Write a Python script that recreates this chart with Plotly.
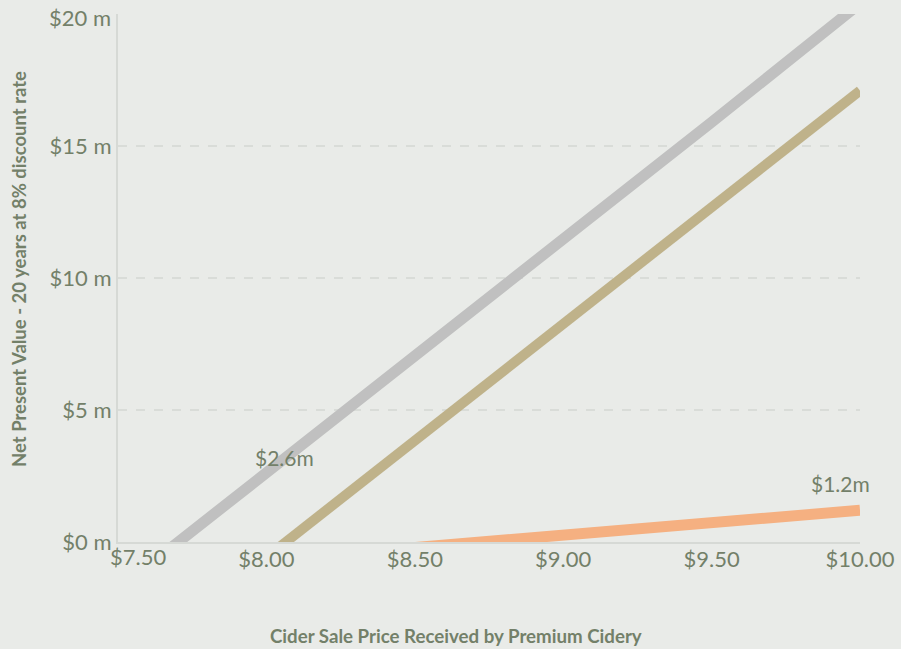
import plotly.graph_objects as go

prices = [7.5, 8.0, 8.5, 9.0, 9.5, 10.0]
npv_gray = [-1.8, 2.6, 7.0, 11.5, 15.9, 20.4]
npv_tan = [-5.0, -0.6, 3.8, 8.2, 12.7, 17.1]
npv_orange = [-1.15, -0.68, -0.21, 0.26, 0.73, 1.2]

x_ticks = [7.5, 8.0, 8.5, 9.0, 9.5, 10.0]
x_tick_text = ["$7.50", "$8.00", "$8.50", "$9.00", "$9.50", "$10.00"]
y_ticks = [0, 5, 10, 15, 20]
y_tick_text = ["$0 m", "$5 m", "$10 m", "$15 m", "$20 m"]

TXT = "#738069"
BG = "#e9ebe8"
FONT = "Lato"
TICK = 22

fig = go.Figure()
fig.add_trace(go.Scatter(x=prices, y=npv_gray, mode="lines",
                         line=dict(color="#c0c0c0", width=11), hoverinfo="skip"))
fig.add_trace(go.Scatter(x=prices, y=npv_tan, mode="lines",
                         line=dict(color="#bfb28a", width=10), hoverinfo="skip"))
fig.add_trace(go.Scatter(x=prices, y=npv_orange, mode="lines",
                         line=dict(color="#f5b081", width=11), hoverinfo="skip"))

fig.update_layout(
    width=901, height=649,
    margin=dict(l=118, r=41, t=14, b=107),
    paper_bgcolor=BG, plot_bgcolor=BG,
    showlegend=False,
    font=dict(family=FONT, size=TICK, color=TXT),
    xaxis=dict(range=[7.5, 10.0], tickvals=x_ticks[1:], ticktext=x_tick_text[1:],
               showgrid=False, zeroline=False, showline=True, linecolor="#d6d9d5",
               linewidth=2, ticks="", ticklabelstandoff=-3, automargin=False),
    yaxis=dict(range=[0, 20], tickvals=y_ticks, ticktext=y_tick_text[:-1] + [""],
               showgrid=True, gridcolor="#d9dcd8", griddash="dash", gridwidth=2,
               zeroline=False, showline=True, linecolor="#d6d9d5", linewidth=2,
               ticks="", ticklabelstandoff=0, automargin=False),
    annotations=[
        dict(x=x_ticks[0], y=0, xref="x", yref="paper", yanchor="top", xanchor="center",
             text=x_tick_text[0], showarrow=False, xshift=20, yshift=1,
             font=dict(size=TICK, color=TXT, family=FONT)),
        dict(x=0, y=y_ticks[-1], xref="paper", yref="y", xanchor="right", yanchor="middle",
             text=y_tick_text[-1], showarrow=False, xshift=-5, yshift=-3,
             font=dict(size=TICK, color=TXT, family=FONT)),
        dict(x=8.0, y=2.6, xref="x", yref="y", text="$2.6m", showarrow=False,
             xshift=18, yshift=16, font=dict(size=21, color=TXT, family=FONT)),
        dict(x=10.0, y=1.2, xref="x", yref="y", text="$1.2m", showarrow=False,
             xshift=-20, yshift=27, font=dict(size=21, color=TXT, family=FONT)),
        dict(x=(456 - 118) / 742, y=(542 - 636) / 528, xref="paper", yref="paper",
             text="<b>Cider Sale Price Received by Premium Cidery</b>", showarrow=False,
             xanchor="center", yanchor="middle", font=dict(size=18.7, color=TXT, family=FONT)),
        dict(x=(19 - 118) / 742, y=(542 - 269) / 528, xref="paper", yref="paper", textangle=-90,
             text="<b>Net Present Value - 20 years at 8% discount rate</b>", showarrow=False,
             xanchor="center", yanchor="middle", font=dict(size=18.5, color=TXT, family=FONT)),
    ],
)

fig.write_html("out.html")
